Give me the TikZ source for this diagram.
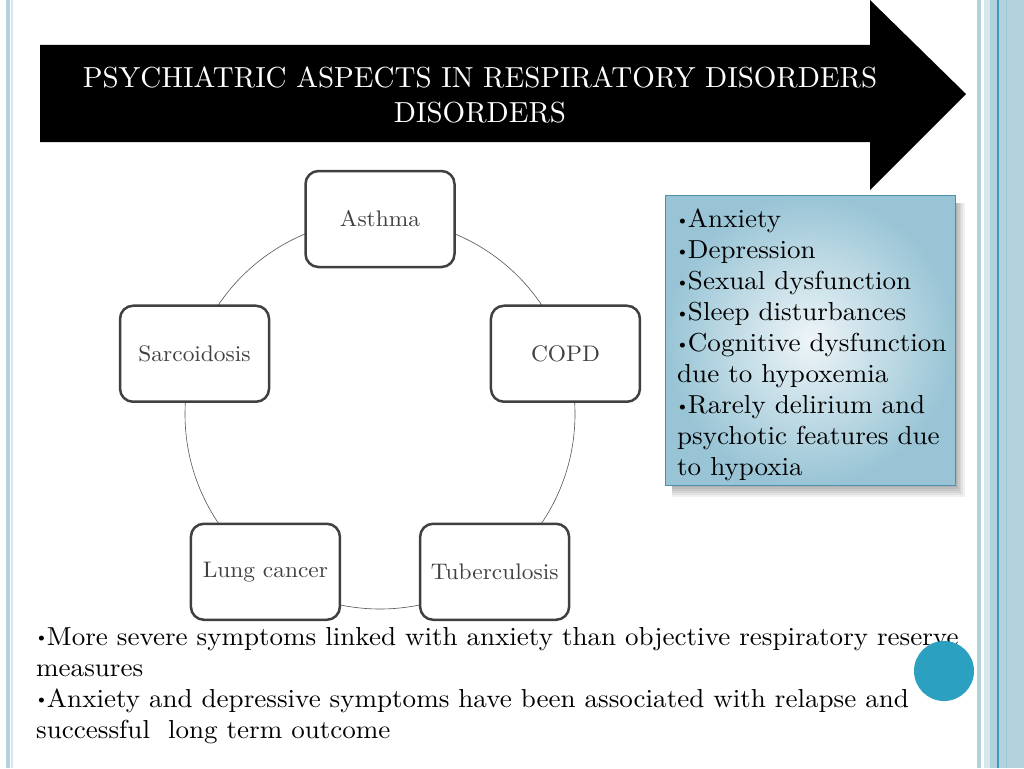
\documentclass[tikz,border=0pt]{standalone}
\usepackage{fontspec}
\setmainfont{lmroman10-regular.otf}
\newfontfamily\widefont{lmroman10-regular.otf}[FakeStretch=1.04]
\usepackage{tikz}
\usetikzlibrary{shapes.geometric}
\definecolor{framebl}{HTML}{B3D2DD}
\definecolor{framepale}{HTML}{D6E8EE}
\definecolor{framedark}{HTML}{3A9CBA}
\definecolor{boxgray}{HTML}{404040}
\definecolor{panelin}{HTML}{EEF5F8}
\definecolor{panelout}{HTML}{98C4D5}
\definecolor{paneledge}{HTML}{4E91AE}
\definecolor{dotblue}{HTML}{2BA0C0}
\newcommand{\dotb}{\kern-1.5pt\raisebox{.25ex}{\fontsize{17}{17}\selectfont\textbullet}\kern-1.5pt}

\begin{document}
\begin{tikzpicture}[x=1pt, y=-1pt,
disbox/.style={draw=boxgray, line width=2.5pt, rounded corners=13pt, fill=white,
minimum width=149pt, minimum height=96pt, text=boxgray, font=\widefont\fontsize{22.5}{24}\selectfont},
listtext/.style={align=left, inner sep=0pt, anchor=north west, font=\widefont\fontsize{26}{31}\selectfont}]
\useasboundingbox (0,0) rectangle (1024,768);
% side frame
\fill[framebl] (6,0) rectangle (10,768);
\fill[framepale] (11,0) rectangle (12.5,768);
\fill[framebl] (977,0) rectangle (981,768);
\fill[framepale] (984,0) rectangle (990,768);
\fill[framebl] (990,0) rectangle (1024,768);
\draw[framedark, line width=1.5pt] (998,0) -- (998,768);
\draw[framepale!60!framedark, line width=1pt] (1006.5,0) -- (1006.5,768);
% title arrow
\fill[black] (40,45) -- (870,45) -- (870,0) -- (966,94) -- (870,190) -- (870,142)
-- (40,142) -- cycle;
\node[text=white, align=center, font=\fontsize{29}{35}\selectfont] (title) at (480,95)
{PSYCHIATRIC ASPECTS IN RESPIRATORY DISORDERS\\DISORDERS};
% ring of disorders
\coordinate (c) at (380,414);
\draw[boxgray!90, line width=.6pt] (c) circle[radius=195];
\foreach \name/\lab/\ang in {asthma/Asthma/-90, copd/COPD/-18, tb/Tuberculosis/54,
lung/Lung cancer/126, sarc/Sarcoidosis/198}{
\node[disbox] (\name) at ([shift={(\ang:195)}]c) {\lab};}
% panel
\foreach \s in {1,...,6}{
\fill[black, opacity=.06] (672,203) rectangle (955+1.6*\s,485+2*\s);}
\draw[paneledge, line width=.8pt, inner color=panelin, outer color=panelout]
(665,195) rectangle (955,485);
\node[listtext] (psych) at (677,209) {\dotb Anxiety\\\dotb Depression\\
\dotb Sexual dysfunction\\\dotb Sleep disturbances\\\dotb Cognitive dysfunction\\
due to hypoxemia\\\dotb Rarely delirium and\\psychotic features due\\to hypoxia};
% bottom notes
\node[listtext] (notes) at (36,627) {\dotb More severe symptoms linked with anxiety than objective respiratory reserve\\
measures\\\dotb Anxiety and depressive symptoms have been associated with relapse and\\
successful\ \ long term outcome};
\node[circle, fill=dotblue, minimum size=60pt, inner sep=0pt] (dot) at (944,671) {};
\end{tikzpicture}
\end{document}
